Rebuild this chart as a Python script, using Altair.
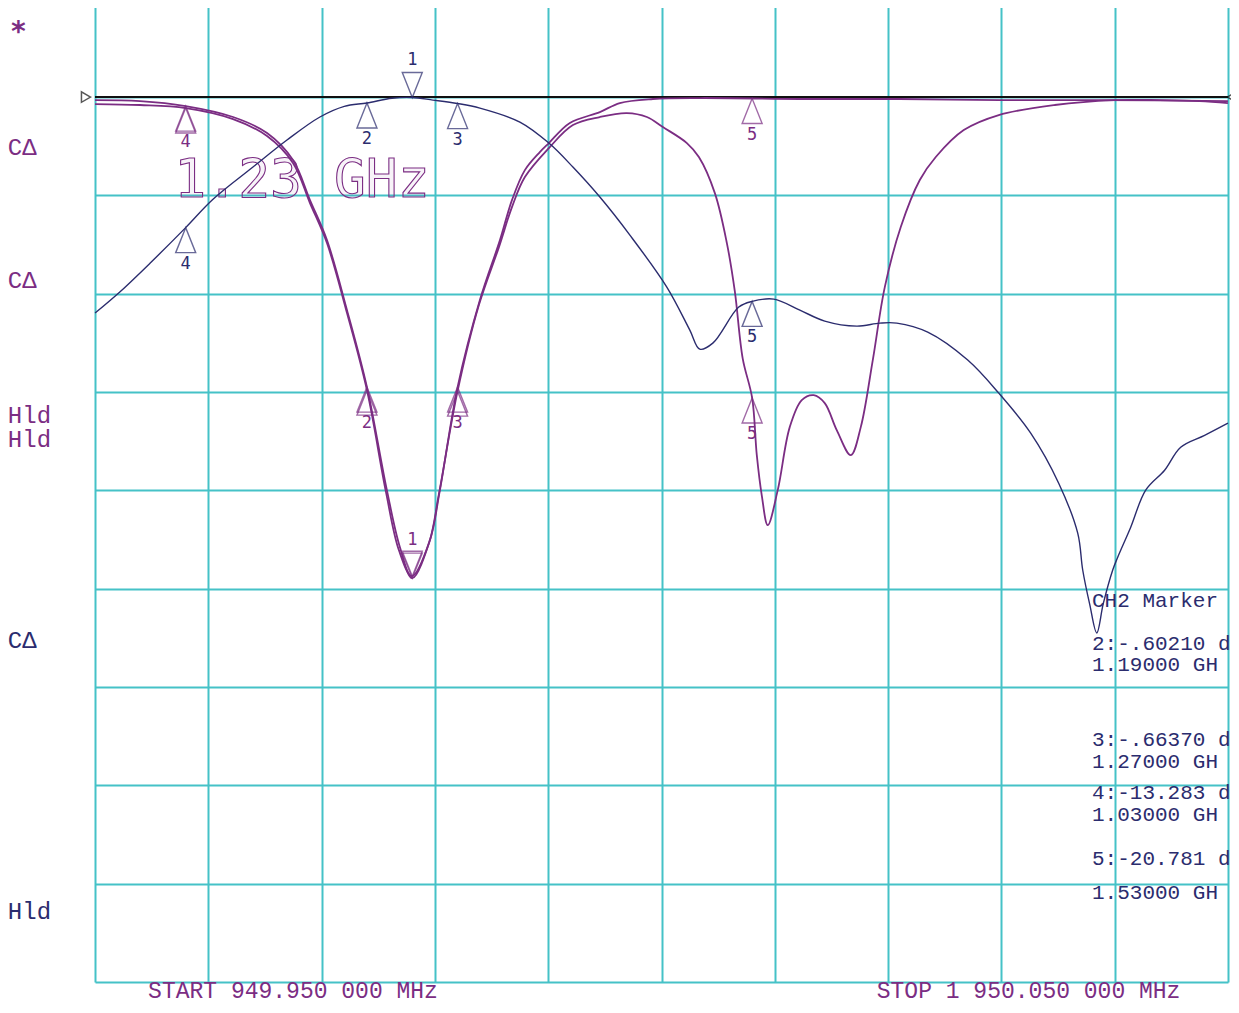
import altair as alt
import pandas as pd

PURPLE = "#7B2D83"
NAVY = "#2B2C6E"
GRID = "#45C2C7"
MONO = "DejaVu Sans Mono"
INST = "Liberation Mono"

# ---- CH2 trace (navy) : frequency (MHz) / level (dB)
ch2_f = [950.0, 972.1, 998.5, 1030.0, 1054.1, 1089.4, 1119.4, 1148.5, 1170.0, 1190.0,
         1212.1, 1230.0, 1248.2, 1270.0, 1289.7, 1325.0, 1350.6, 1371.8, 1395.6, 1422.1,
         1454.7, 1475.0, 1483.8, 1495.3, 1518.2, 1530.0, 1549.1, 1572.1, 1594.1, 1622.4,
         1642.7, 1657.7, 1685.0, 1720.3, 1747.7, 1775.9, 1800.6, 1817.4, 1821.8, 1828.0,
         1834.2, 1840.0, 1848.3, 1852.7, 1864.0, 1877.4, 1894.1, 1908.3, 1929.4, 1950.0]
ch2_db = [-21.97, -19.80, -16.90, -13.28, -10.40, -7.12, -4.37, -2.03, -0.95, -0.60,
          -0.12, -0.05, -0.31, -0.66, -1.12, -2.54, -4.68, -7.12, -10.17, -14.04,
          -19.33, -23.70, -25.64, -25.03, -21.36, -20.78, -20.55, -21.67, -22.79, -23.30,
          -22.99, -22.99, -23.91, -26.75, -30.11, -34.18, -39.27, -44.35, -48.10, -51.60,
          -54.50, -51.50, -48.10, -46.80, -43.80, -39.98, -37.95, -35.61, -34.40, -33.16]

# ---- CH1 memory trace (purple, single dip)
mem_f = [950.0, 989.7, 1030.0, 1071.8, 1101.8, 1124.7, 1139.7, 1154.7, 1172.4, 1190.0,
         1207.6, 1219.1, 1230.0, 1245.6, 1254.4, 1270.0, 1289.7, 1307.4, 1318.0, 1329.4,
         1342.6, 1350.6, 1369.1, 1395.6, 1413.2, 1442.4, 1483.8, 1572.1, 1660.3, 1748.6,
         1836.8, 1950.0]
mem_db = [-0.31, -0.41, -0.92, -2.03, -3.66, -6.41, -10.48, -14.55, -21.67, -29.50,
          -39.98, -45.78, -48.93, -45.07, -39.98, -29.50, -20.65, -14.55, -10.48, -7.43,
          -5.60, -4.68, -2.64, -1.53, -0.61, -0.20, -0.10, -0.20, -0.20, -0.31,
          -0.31, -0.41]

# ---- CH1 data trace (purple, two bands)
s11_f = [950.0, 989.7, 1030.0, 1071.8, 1101.8, 1124.7, 1139.7, 1154.7, 1172.4, 1190.0,
         1206.8, 1218.2, 1229.7, 1244.7, 1253.5, 1270.0, 1288.8, 1306.5, 1318.0, 1329.4,
         1350.6, 1371.8, 1395.6, 1419.4, 1437.1, 1451.2, 1472.4, 1483.0, 1497.1, 1507.7,
         1514.7, 1521.7, 1530.0, 1534.1, 1538.5, 1543.8, 1552.6, 1563.2, 1573.8, 1584.4,
         1594.1, 1604.7, 1617.1, 1625.9, 1636.5, 1647.1, 1661.2, 1678.0, 1692.1, 1716.8,
         1747.7, 1797.1, 1849.2, 1889.7, 1925.0, 1950.0]
s11_db = [-0.71, -0.81, -1.12, -2.24, -3.97, -6.71, -10.78, -14.85, -21.97, -29.81,
          -40.18, -46.08, -48.73, -45.37, -40.39, -29.91, -21.16, -15.26, -11.19, -8.14,
          -5.19, -2.85, -2.03, -1.63, -2.03, -3.05, -4.68, -6.10, -9.77, -14.85,
          -19.74, -26.60, -30.60, -36.40, -40.50, -43.54, -39.98, -33.57, -30.82, -30.32,
          -31.13, -33.88, -36.42, -33.57, -26.75, -19.33, -13.22, -8.44, -6.10, -3.36,
          -1.83, -0.81, -0.31, -0.31, -0.41, -0.61]

# ---- markers
mk_id = ["1", "2", "3", "4", "5"]
mk_f = [1230, 1190, 1270, 1030, 1530]
mk_dir = ["down", "up", "up", "up", "up"]
mk_ch2_db = [-0.05, -0.602, -0.664, -13.283, -20.781]
mk_mem_db = [-48.93, -29.50, -29.50, -0.92, -0.15]
mk_s11_db = [-48.73, -29.81, -29.91, -1.12, -30.60]

# ---- screen annotations
side_text = ["CΔ", "CΔ", "Hld", "Hld", "CΔ", "Hld"]
side_db = [-5.2, -18.7, -32.4, -34.9, -55.3, -82.9]
side_col = ["p", "p", "p", "p", "n", "n"]

ch2_lines = ["CH2 Marker", "2:-.60210 d", " 1.19000 GH", "3:-.66370 d", " 1.27000 GH",
             "4:-13.283 d", " 1.03000 GH", "5:-20.781 d", " 1.53000 GH"]
ch2_line_db = [-51.9, -56.2, -58.4, -66.0, -68.2, -71.4, -73.6, -78.1, -81.6]

x_values = [950, 1050, 1150, 1250, 1350, 1450, 1550, 1650, 1750, 1850, 1950]
y_values = [-90, -80, -70, -60, -50, -40, -30, -20, -10, 0, 10]

xs = alt.Scale(domain=[949.95, 1950.05])
ys = alt.Scale(domain=[-90, 9.87])
x_enc = alt.X("f:Q", scale=xs, axis=alt.Axis(values=x_values, title=None))
y_enc = alt.Y("db:Q", scale=ys, axis=alt.Axis(values=y_values, title=None))
col_scale = alt.Scale(domain=["p", "n"], range=[PURPLE, NAVY])

traces = pd.concat([
    pd.DataFrame({"f": mem_f, "db": mem_db, "t": "mem"}),
    pd.DataFrame({"f": s11_f, "db": s11_db, "t": "s11"}),
])
ch2 = pd.DataFrame({"f": ch2_f, "db": ch2_db})

tri = pd.concat([
    pd.DataFrame({"f": mk_f, "db": mk_ch2_db, "id": mk_id, "dir": mk_dir, "c": "n", "lab": 1}),
    pd.DataFrame({"f": mk_f, "db": mk_mem_db, "id": mk_id, "dir": mk_dir, "c": "p", "lab": 1}),
    pd.DataFrame({"f": mk_f, "db": mk_s11_db, "id": mk_id, "dir": mk_dir, "c": "p",
                  "lab": [0, 0, 0, 0, 1]}),
])

ref = pd.DataFrame({"db": [0]})
ref_tri = pd.DataFrame({"f": [942.0, 1953.5], "db": [0, 0], "s": ["triangle-right", "triangle-left"]})
side = pd.DataFrame({"f": [873.0] * len(side_text), "db": side_db, "txt": side_text, "c": side_col})
star = pd.DataFrame({"f": [875.0], "db": [7.1], "txt": ["*"]})
ch2_txt = pd.DataFrame({"f": [1830.0] * len(ch2_lines), "db": ch2_line_db, "txt": ch2_lines})
bottom = pd.DataFrame({"f": [996.8, 1640.0], "db": [-91.65, -91.65],
                       "txt": ["START 949.950 000 MHz", "STOP 1 950.050 000 MHz"]})
big = pd.DataFrame({"f": [1020.0], "db": [-10.2], "txt": ["1.23 GHz"]})

UP = "M0,0L-1,2.5L1,2.5Z"
DOWN = "M0,0L-1,-2.5L1,-2.5Z"

ref_line = alt.Chart(ref).mark_rule(color="#111111", strokeWidth=2).encode(y=y_enc)
ref_marks = alt.Chart(ref_tri).mark_point(filled=False, color="#111111", size=110, strokeWidth=1.5).encode(
    x=x_enc, y=y_enc, shape=alt.Shape("s:N", scale=None))

purple_lines = alt.Chart(traces).mark_line(color=PURPLE, strokeWidth=1.8, interpolate="catmull-rom").encode(
    x=x_enc, y=y_enc, detail="t:N")
navy_line = alt.Chart(ch2).mark_line(color=NAVY, strokeWidth=1.4, interpolate="catmull-rom").encode(x=x_enc, y=y_enc)

big_text = alt.Chart(big).mark_text(font=MONO, fontSize=53, align="left", baseline="alphabetic",
                                    fill=PURPLE, fillOpacity=0.06, stroke=PURPLE, strokeWidth=1.1).encode(
    x=x_enc, y=y_enc, text="txt:N")

col = alt.Color("c:N", scale=col_scale, legend=None)
stk = alt.Stroke("c:N", scale=col_scale, legend=None)
up_tri = alt.Chart(tri).transform_filter("datum.dir == 'up'").mark_point(
    shape=UP, size=400, filled=False, strokeWidth=1.4).encode(x=x_enc, y=y_enc, stroke=stk)
down_tri = alt.Chart(tri).transform_filter("datum.dir == 'down'").mark_point(
    shape=DOWN, size=400, filled=False, strokeWidth=1.4).encode(x=x_enc, y=y_enc, stroke=stk)
up_lbl = alt.Chart(tri).transform_filter("datum.dir == 'up' && datum.lab == 1").mark_text(
    font=MONO, fontSize=17, dy=36, baseline="middle").encode(x=x_enc, y=y_enc, text="id:N", color=col)
down_lbl = alt.Chart(tri).transform_filter("datum.dir == 'down' && datum.lab == 1").mark_text(
    font=MONO, fontSize=17, dy=-38, baseline="middle").encode(x=x_enc, y=y_enc, text="id:N", color=col)

side_lbl = alt.Chart(side).mark_text(font=INST, fontSize=24, align="left", baseline="middle").encode(
    x=x_enc, y=y_enc, text="txt:N", color=col)
star_lbl = alt.Chart(star).mark_text(font=MONO, fontSize=28, fontWeight="bold", align="left",
                                     baseline="middle", dy=6, color=PURPLE).encode(x=x_enc, y=y_enc, text="txt:N")
ch2_lbl = alt.Chart(ch2_txt).mark_text(font=INST, fontSize=21, align="left", baseline="alphabetic", color=NAVY).encode(
    x=x_enc, y=y_enc, text="txt:N")
bottom_lbl = alt.Chart(bottom).mark_text(font=INST, fontSize=23, align="left", baseline="alphabetic", color=PURPLE).encode(
    x=x_enc, y=y_enc, text="txt:N")

chart = alt.layer(
    ref_line, big_text, purple_lines, navy_line, ref_marks,
    up_tri, down_tri, up_lbl, down_lbl, side_lbl, star_lbl, ch2_lbl, bottom_lbl,
).properties(
    width=1133, height=982, autosize="none",
    padding={"left": 87, "top": -8, "right": 3, "bottom": 23},
    background="white",
).configure_view(stroke=None).configure_axis(
    grid=True, gridColor=GRID, gridWidth=2, gridOpacity=1,
    labels=False, ticks=False, domain=False, title=None,
)

chart.save("out.html", embed_options={"renderer": "svg", "actions": False})
